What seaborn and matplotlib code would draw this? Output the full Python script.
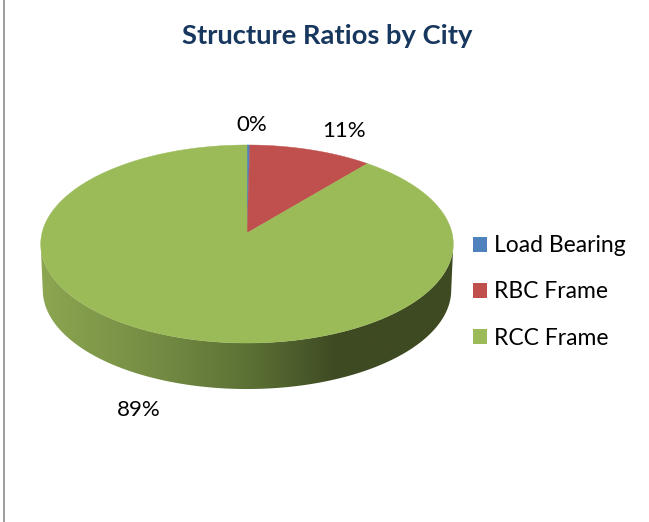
import numpy as np
import matplotlib
matplotlib.use("Agg")
import matplotlib.pyplot as plt
from matplotlib.colors import LinearSegmentedColormap
from matplotlib.patches import Patch, Polygon
from matplotlib.transforms import Affine2D
import seaborn as sns

# Data
categories = ["Load Bearing", "RBC Frame", "RCC Frame"]
shares = [0.25, 10.75, 89.0]
colors = ["#4f81bd", "#c0504d", "#9bbb59"]
title = "Structure Ratios by City"

sns.set_theme(style="white")
plt.rcParams["font.family"] = ["Lato", "DejaVu Sans"]
palette = sns.color_palette(colors)

fig = plt.figure(figsize=(6.49, 5.22), dpi=100)
ax = fig.add_axes([0, 0, 1, 1])

wedges, _ = ax.pie(shares, colors=palette, startangle=90, counterclock=False)


# tilted disc: unit circle coordinates to pixels, with a little perspective
def tilt(xy, drop=0, shrink=1.0):
    x, y = xy[:, 0], xy[:, 1]
    k = 1 + y / 9
    return np.column_stack([247 + 205 * shrink * x / k, 233 + drop - 97.8 * y / k])


# Top face (flatten the arcs at a large scale so the outline stays smooth)
for w, c in zip(wedges, palette):
    verts = w.get_path().to_polygons(transform=Affine2D().scale(2000))[0] / 2000
    w.set_visible(False)
    ax.add_patch(Polygon(tilt(verts), closed=True, facecolor=c, edgecolor=c, lw=0.3, zorder=3))

# Shaded side of the disc, joined at the widest points of the ellipse
t = np.linspace(0, 2 * np.pi, 600)
circle = np.column_stack([np.cos(t), np.sin(t)])
circle = circle[circle[:, 1] <= -1 / 9]
lower = tilt(circle, drop=46, shrink=0.99)
upper = tilt(circle)
side = Polygon(np.vstack([upper, lower[::-1]]), closed=True, transform=ax.transData, facecolor="none", edgecolor="none")
ax.add_patch(side)
side_cmap = LinearSegmentedColormap.from_list(
    "side", [(0, "#8ca651"), (0.3, "#728a42"), (0.5, "#5c7235"), (0.72, "#3e4a22"), (1, "#3e4a22")]
)
img = ax.imshow(np.linspace(0, 1, 256)[None, :], cmap=side_cmap, aspect="auto", extent=(40, 454, 392, 240), zorder=2)
img.set_clip_path(side)

# Labels
ax.text(327, 36, title, color="#17375e", fontsize=19.7, fontweight="bold", ha="center", va="center", zorder=5)
ax.text(252, 125, f"{shares[0]:.0f}%", color="black", fontsize=16, ha="center", va="center")
ax.text(344, 131, f"{shares[1]:.0f}%", color="black", fontsize=16, ha="center", va="center")
ax.text(139, 410, f"{shares[2]:.0f}%", color="black", fontsize=16, ha="center", va="center")

handles = [Patch(facecolor=c, edgecolor="none") for c in palette]
ax.legend(handles, categories, loc="center left", bbox_to_anchor=(473 / 649, 1 - 292 / 522), frameon=False,
          fontsize=16.5, labelcolor="black", handlelength=0.61, handleheight=0.61, handletextpad=0.3,
          labelspacing=1.1, borderpad=0, borderaxespad=0)

# Left border of the chart area
ax.plot([4, 4], [0, 522], color="#8c8c8c", lw=1.2)

ax.set_aspect("auto")
ax.set_xlim(0, 649)
ax.set_ylim(522, 0)
ax.axis("off")

fig.savefig("out.png", dpi=100, facecolor="white")
